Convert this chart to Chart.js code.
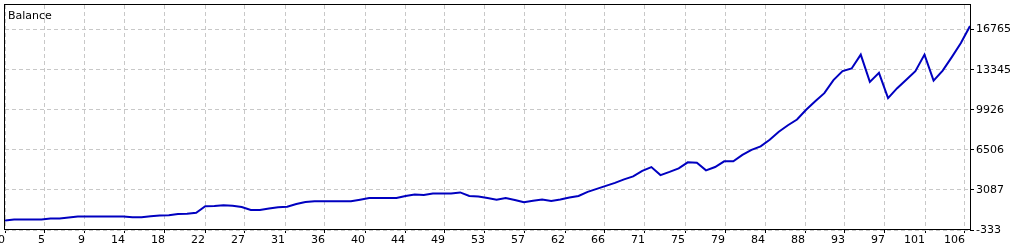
<!DOCTYPE html>
<html>
<head>
<meta charset="utf-8">
<style>
  html, body { margin: 0; padding: 0; background: #fff; }
  #wrap { width: 1025px; height: 250px; position: relative; }
</style>
<script src="https://cdn.jsdelivr.net/npm/chart.js@4.4.1/dist/chart.umd.min.js"></script>
</head>
<body>
<div id="wrap"><canvas id="balanceChart"></canvas></div>
<script>
// balance after each trade
const balance = [
  480, 565, 565, 565, 565, 650, 650, 736, 821, 821,
  821, 821, 821, 821, 761, 761, 847, 907, 932, 1035,
  1052, 1137, 1702, 1719, 1787, 1736, 1633, 1377, 1377, 1505,
  1616, 1650, 1890, 2061, 2129, 2129, 2129, 2129, 2129, 2249,
  2386, 2386, 2386, 2403, 2574, 2702, 2659, 2787, 2787, 2787,
  2873, 2574, 2531, 2403, 2249, 2403, 2232, 2044, 2163, 2274,
  2146, 2274, 2445, 2574, 2916, 3172, 3429, 3685, 3984, 4241,
  4711, 5036, 4352, 4625, 4925, 5438, 5412, 4754, 5036, 5523,
  5523, 6079, 6506, 6805, 7361, 8045, 8601, 9088, 9926, 10652,
  11336, 12448, 13217, 13448, 14628, 12302, 13072, 10909, 11764, 12491,
  13217, 14628, 12405, 13260, 14414, 15611, 17064
];
const tradeNo = balance.map((_, i) => i);

const xTickLabels = ['0', '5', '9', '14', '18', '22', '27', '31', '36', '40', '44', '49', '53',
  '57', '62', '66', '71', '75', '79', '84', '88', '93', '97', '101', '106'];
const yTickValues = [-333, 3087, 6506, 9926, 13345, 16765];

const Y_MIN = -333;
const Y_MAX = 18859;
const X_MAX = 106;
const X_STEP = 40 / (965 / X_MAX); // gridlines every 40px

const FONT = { family: 'DejaVu Sans', size: 11 };

const frame = {
  id: 'frame',
  afterDraw(chart) {
    const { ctx, chartArea: a } = chart;
    ctx.save();
    ctx.strokeStyle = '#000';
    ctx.lineWidth = 1;
    ctx.strokeRect(Math.round(a.left) - 0.5, Math.round(a.top) - 0.5,
      Math.round(a.right - a.left) + 1, Math.round(a.bottom - a.top));
    ctx.fillStyle = '#000';
    ctx.font = '11px "DejaVu Sans"';
    ctx.textBaseline = 'alphabetic';
    ctx.fillText('Balance', 8, 19);
    ctx.restore();
  }
};

new Chart(document.getElementById('balanceChart'), {
  type: 'line',
  data: {
    datasets: [{
      label: 'Balance',
      data: tradeNo.map((x, i) => ({ x: x, y: balance[i] })),
      borderColor: '#0000c0',
      borderWidth: 2,
      pointRadius: 0,
      tension: 0,
      fill: false
    }]
  },
  options: {
    responsive: true,
    maintainAspectRatio: false,
    animation: false,
    events: [],
    layout: { padding: { left: 5, top: 5, right: 0, bottom: 0 } },
    plugins: { legend: { display: false }, tooltip: { enabled: false }, title: { display: false } },
    scales: {
      x: {
        type: 'linear',
        min: 0,
        max: X_MAX,
        afterBuildTicks: (scale) => {
          scale.ticks = xTickLabels.map((_, k) => ({ value: k * X_STEP }));
        },
        afterFit: (scale) => {
          scale.height = 20;
          scale.paddingLeft = 0;
          scale.paddingRight = 0;
        },
        ticks: {
          autoSkip: false,
          maxRotation: 0,
          align: 'end',
          padding: 1,
          color: '#000',
          font: FONT,
          callback: (v, i) => xTickLabels[i]
        },
        grid: { color: '#c8c8c8', tickColor: '#000', tickLength: 3, tickBorderDash: [] },
        border: { display: false, dash: [4, 3] }
      },
      y: {
        position: 'right',
        min: Y_MIN,
        max: Y_MAX,
        afterBuildTicks: (scale) => {
          scale.ticks = yTickValues.map(v => ({ value: v }));
        },
        afterFit: (scale) => {
          scale.width = 55;
          scale.paddingTop = 0;
          scale.paddingBottom = 0;
        },
        ticks: {
          padding: 2,
          color: '#000',
          font: FONT,
          callback: (v) => String(v)
        },
        grid: { color: '#c8c8c8', tickColor: '#000', tickLength: 4, tickBorderDash: [] },
        border: { display: false, dash: [4, 3] }
      }
    }
  },
  plugins: [frame]
});
</script>
</body>
</html>
